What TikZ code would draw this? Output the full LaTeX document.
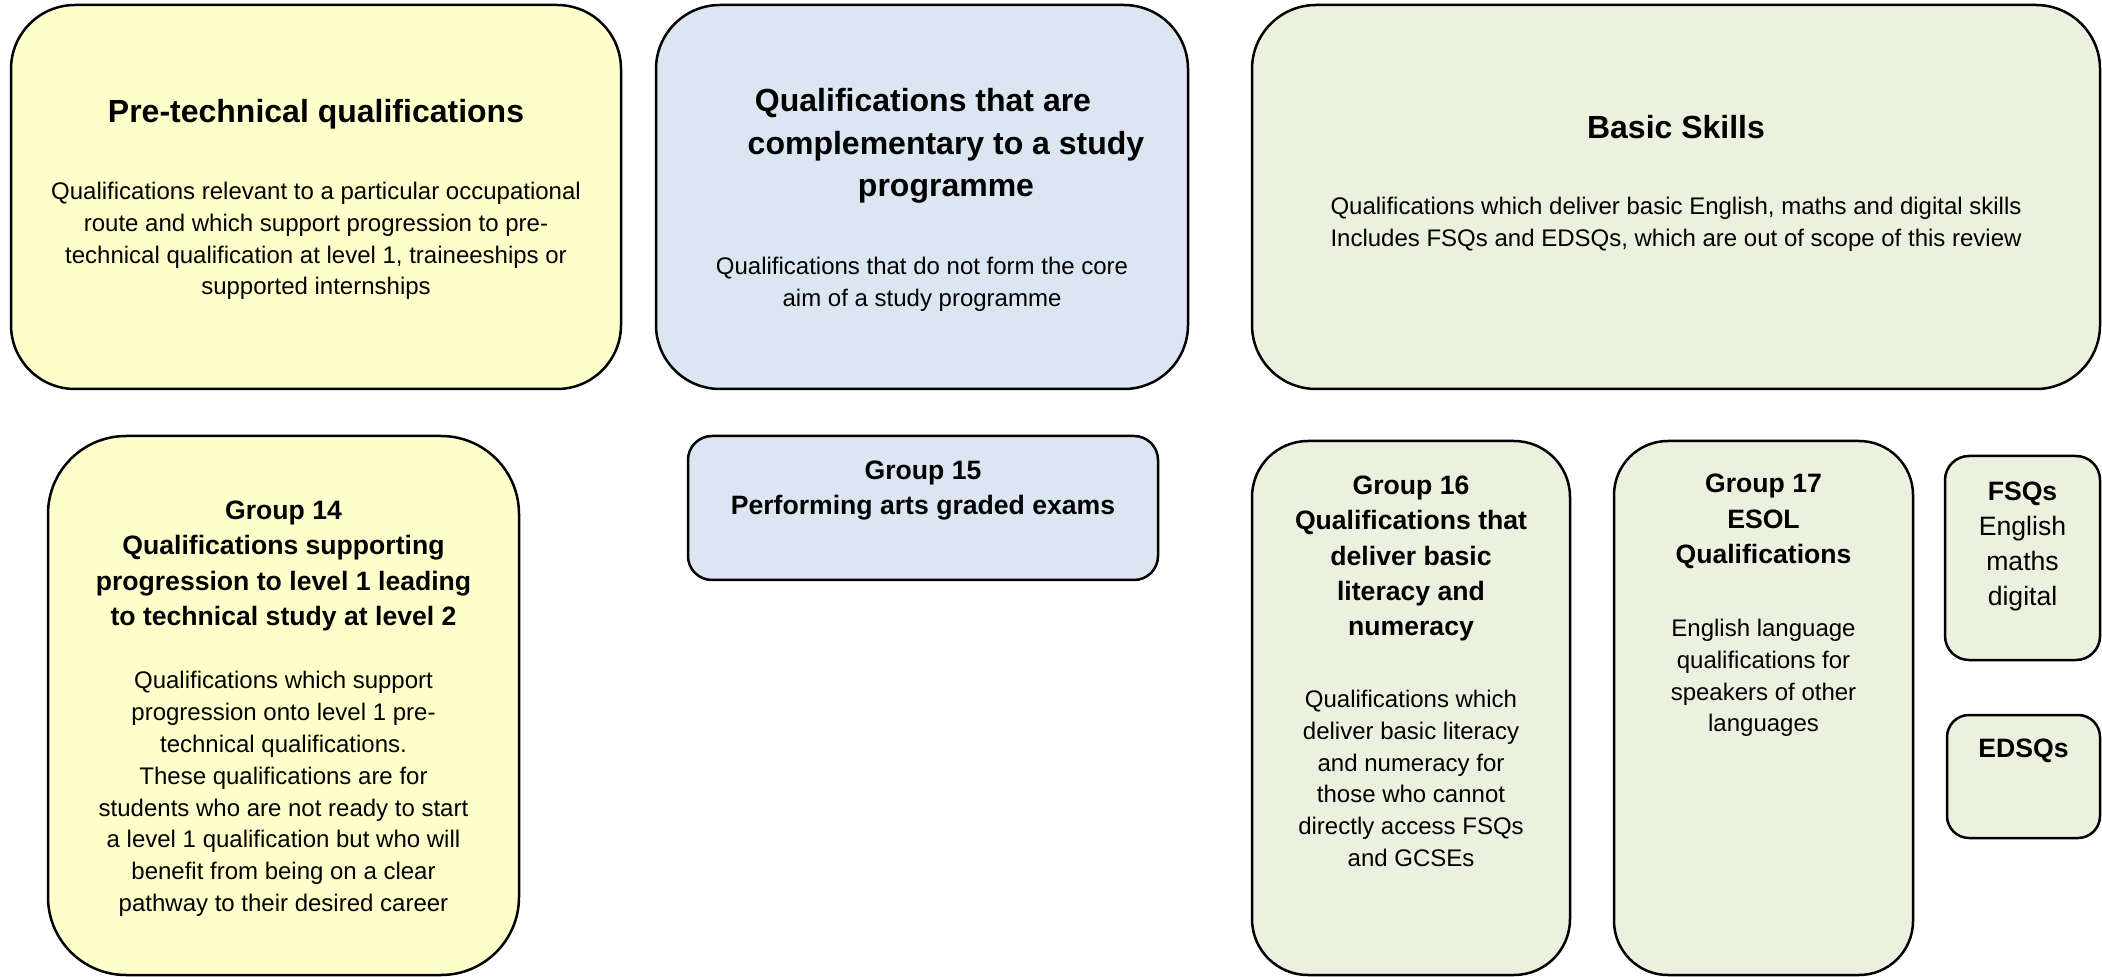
\documentclass[tikz,border=0pt]{standalone}
\usepackage{fontspec}
\setmainfont{Liberation Sans}
\usetikzlibrary{positioning}

\definecolor{pretech}{HTML}{FFFFCC}
\definecolor{compl}{HTML}{DCE6F2}
\definecolor{basic}{HTML}{EBF1DE}

\tikzset{
  qbox/.style={draw=black, line width=1.25pt, rounded corners=#1, inner sep=0pt},
  qbox/.default=32pt,
  bigtitle/.style={font=\bfseries\fontsize{16}{21.4}\selectfont, align=center, inner sep=0pt},
  grptitle/.style={font=\bfseries\fontsize{13.3}{17.6}\selectfont, align=center, inner sep=0pt},
  bodytext/.style={font=\fontsize{12}{15.9}\selectfont, align=center, inner sep=0pt}
}

\begin{document}
\begin{tikzpicture}[x=0.5pt, y=-0.5pt]
\useasboundingbox (0,0) rectangle (2102,977);

\def\xa{316}
\def\xb{922}
\def\xc{1676}

\node (pretech) [qbox, fill=pretech, minimum width=305pt, minimum height=192pt] at (\xa,197) {};
\node (compl) [qbox, fill=compl, minimum width=266pt, minimum height=192pt] at (\xb,197) {};
\node (basic) [qbox, fill=basic, minimum width=424pt, minimum height=192pt] at (\xc,197) {};

\node (pretechtitle) [bigtitle] at (\xa,114) {Pre-technical qualifications};
\node (pretechtext) [bodytext] at (\xa,241) {Qualifications relevant to a particular occupational\\
  route and which support progression to pre-\\
  technical qualification at level 1, traineeships or\\
  supported internships};

\node (compltitle) [bigtitle] at (946,146) {Qualifications that are\kern23pt\\complementary to a study\\programme};
\node (compltext) [bodytext] at (\xb,284) {Qualifications that do not form the core\\aim of a study programme};

\node (basictitle) [bigtitle] at (\xc,127) {Basic Skills};
\node (basictext) [bodytext] at (\xc,224) {Qualifications which deliver basic English, maths and digital skills\\
  Includes FSQs and EDSQs, which are out of scope of this review};

\node (grpa) [qbox=39pt, fill=pretech, minimum width=235.5pt, minimum height=269.5pt] at (283.5,705.5) {};
\node (grpatitle) [grptitle] at (283.5,566) {Group 14\\Qualifications supporting\\progression to level 1 leading\\to technical study at level 2};
\node (grpatext) [bodytext] at (283.5,794) {Qualifications which support\\progression onto level 1 pre-\\technical qualifications.\\
  These qualifications are for\\students who are not ready to start\\a level 1 qualification but who will\\
  benefit from being on a clear\\pathway to their desired career};

\node (grpb) [qbox=12pt, fill=compl, minimum width=235pt, minimum height=72pt] at (923,508) {};
\node (grpbtitle) [grptitle] at (923,490.5) {Group 15\\Performing arts graded exams};

\node (grpc) [qbox=28pt, fill=basic, minimum width=159pt, minimum height=267pt] at (1411,708) {};
\node (grpctitle) [grptitle] at (1411,558.5) {Group 16\\Qualifications that\\deliver basic\\literacy and\\numeracy};
\node (grpctext) [bodytext] at (1411,778.5) {Qualifications which\\deliver basic literacy\\and numeracy for\\those who cannot\\directly access FSQs\\and GCSEs};

\node (grpd) [qbox=27pt, fill=basic, minimum width=149.5pt, minimum height=267pt] at (1763.5,708) {};
\node (grpdtitle) [grptitle] at (1763.5,521.5) {Group 17\\ESOL\\Qualifications};
\node (grpdtext) [bodytext] at (1763.5,678) {English language\\qualifications for\\speakers of other\\languages};

\node (fsq) [qbox=12pt, fill=basic, minimum width=77.5pt, minimum height=102pt] at (2022.5,558) {};
\node (fsqtext) [grptitle] at (2022.5,546.5) {FSQs\\\mdseries English\\\mdseries maths\\\mdseries digital};

\node (edsq) [qbox=11pt, fill=basic, minimum width=76.5pt, minimum height=61.5pt] at (2023.5,776.5) {};
\node (edsqtext) [grptitle] at (2023.5,751) {EDSQs};

\end{tikzpicture}
\end{document}
